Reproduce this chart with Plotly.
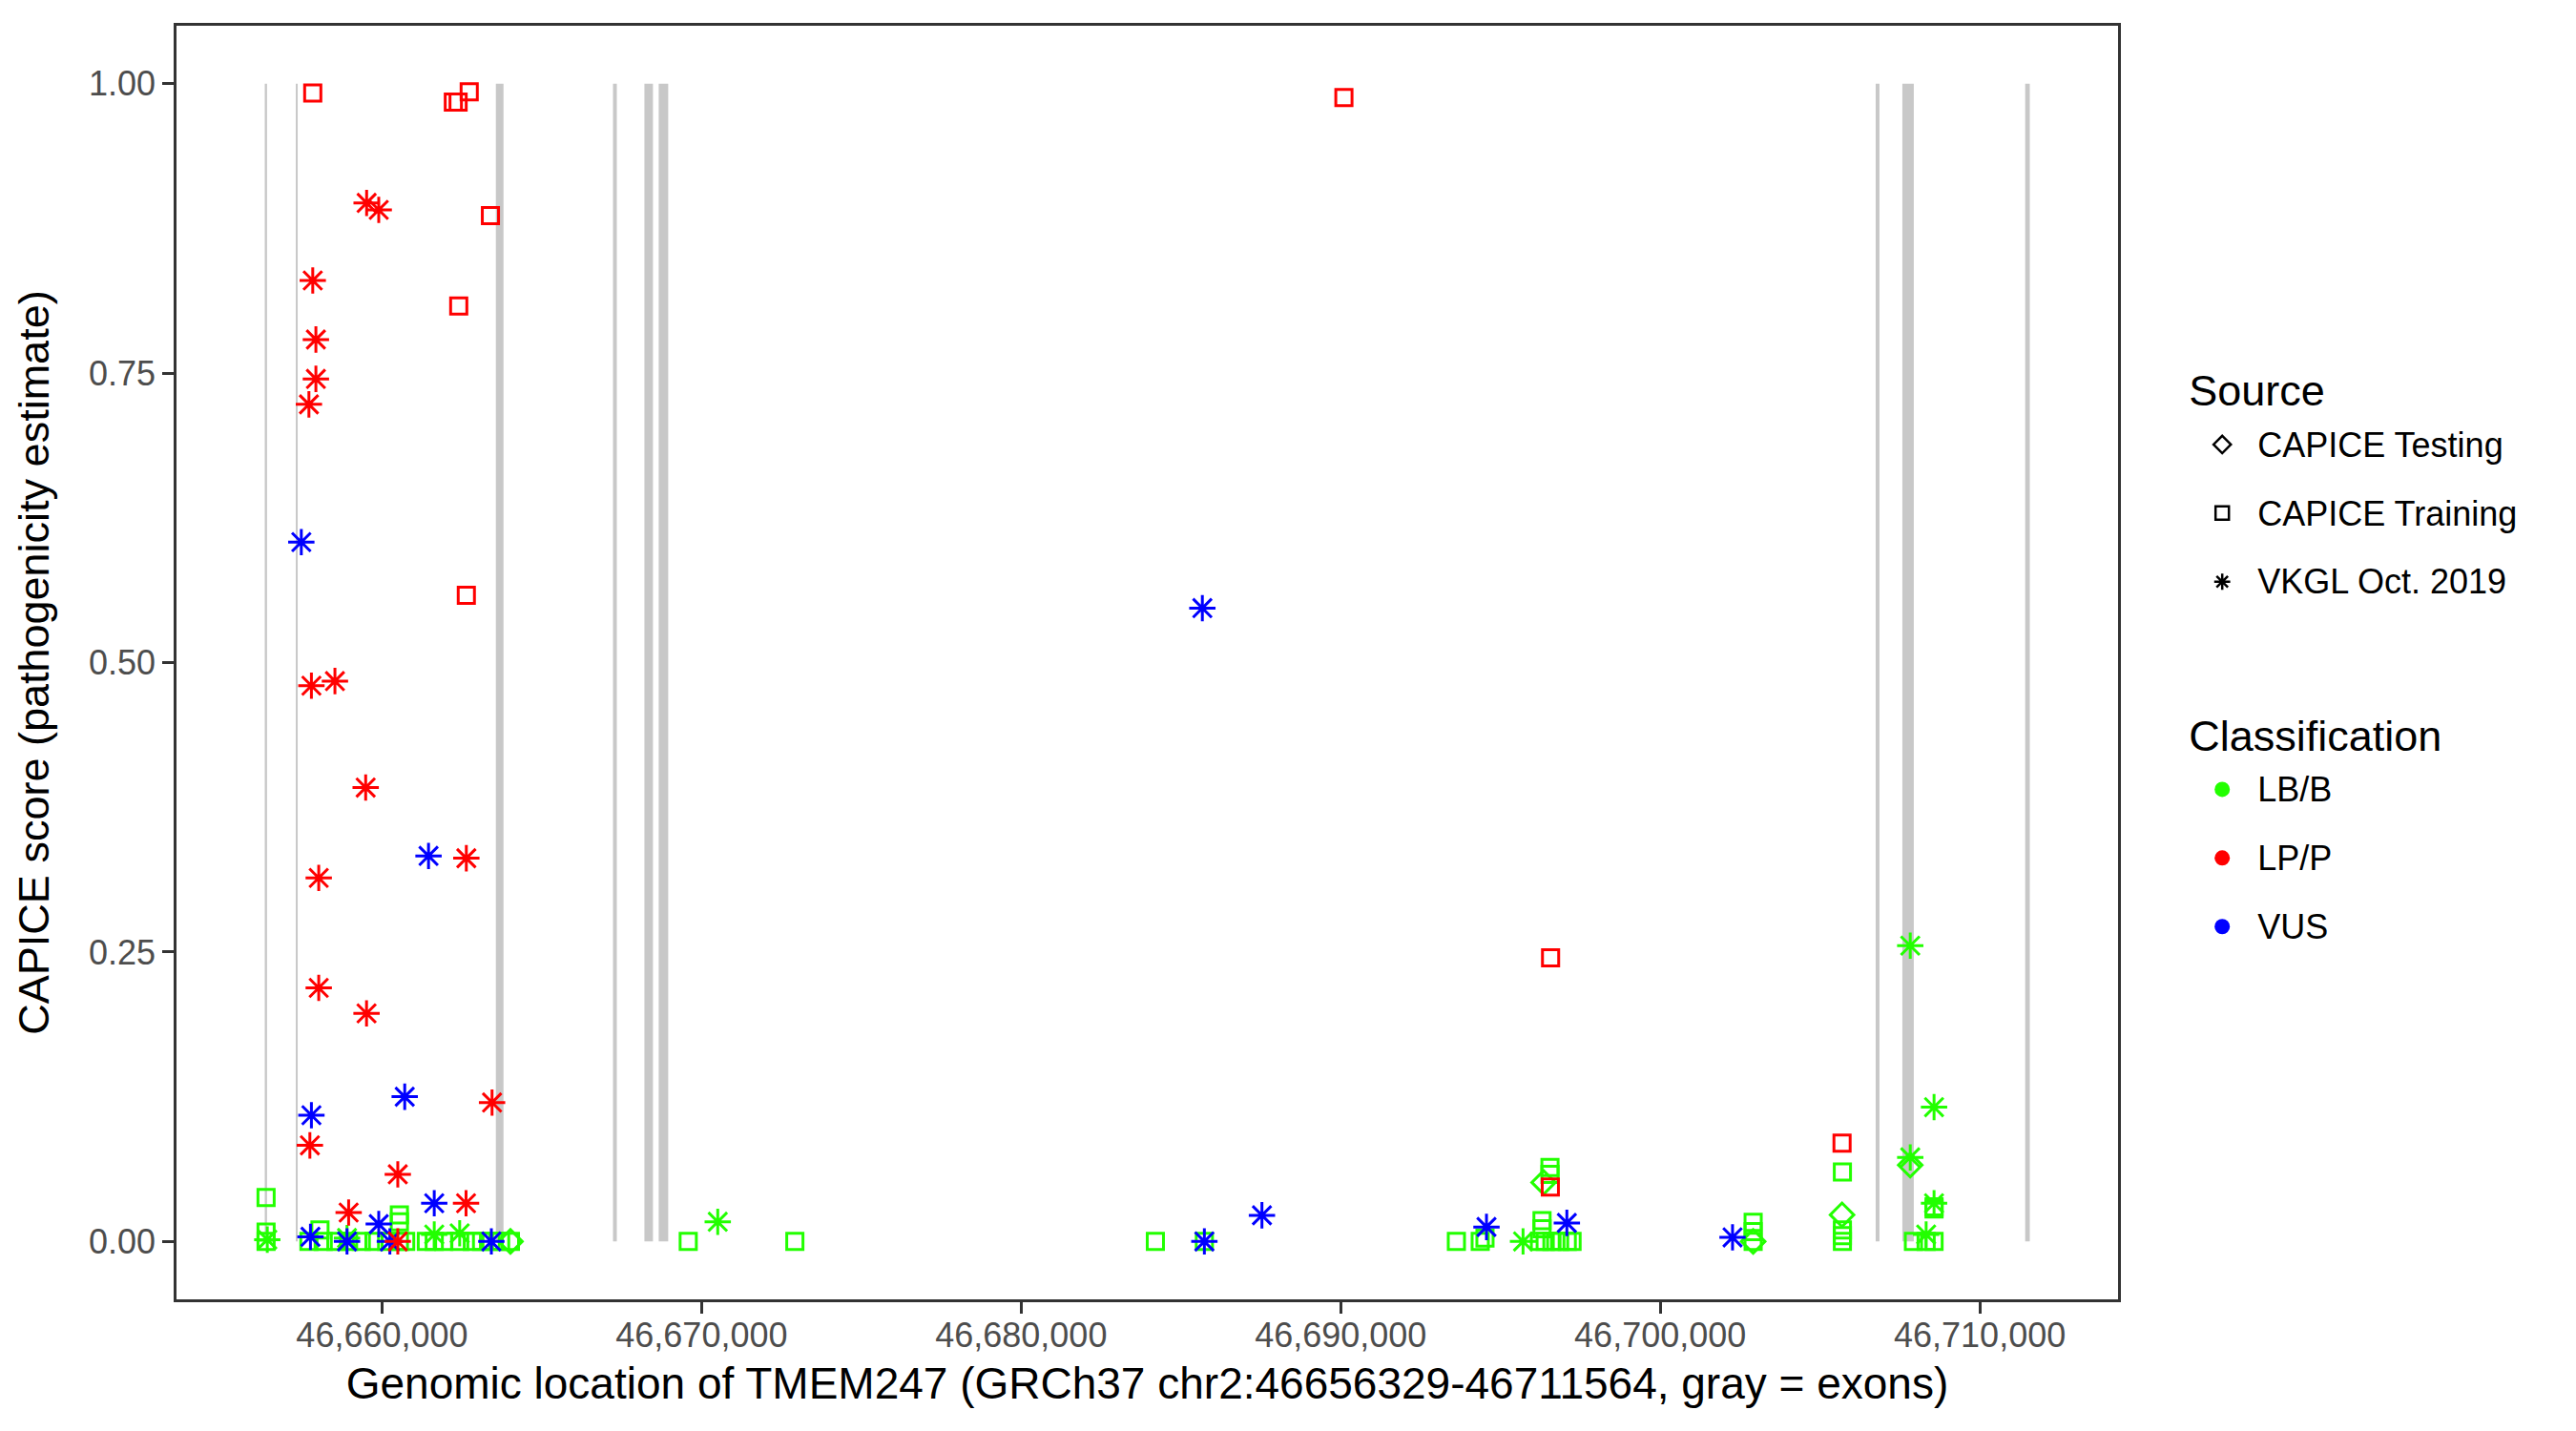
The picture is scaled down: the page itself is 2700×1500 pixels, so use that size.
import plotly.graph_objects as go

# exon coordinates (GRCh37 chr2), drawn as gray bands from score 0 to 1
exon_start = [46656329, 46657300, 46663561, 46667227, 46668210, 46668657, 46706741, 46707576, 46711420]
exon_end = [46656400, 46657360, 46663800, 46667346, 46668478, 46668955, 46706860, 46707934, 46711564]

# VKGL Oct. 2019 variants
vkgl_lpp_pos = [46659517, 46659896, 46657831, 46657929, 46657929, 46657711, 46657789, 46658525,
                46659487, 46662637, 46658018, 46658018, 46659514, 46663442, 46657741, 46660492,
                46662628, 46658954, 46660492]
vkgl_lpp_score = [0.897, 0.891, 0.830, 0.779, 0.745, 0.723, 0.480, 0.484,
                  0.392, 0.331, 0.314, 0.219, 0.197, 0.120, 0.083, 0.058,
                  0.033, 0.025, 0.000]
vkgl_vus_pos = [46657473, 46661454, 46660709, 46657789, 46661633, 46659896, 46657759, 46658903,
                46660244, 46663420, 46685670, 46685733, 46687535, 46694562, 46697077, 46702262]
vkgl_vus_score = [0.604, 0.333, 0.125, 0.109, 0.033, 0.015, 0.004, 0.000,
                  0.000, 0.000, 0.547, 0.000, 0.0226, 0.0125, 0.016, 0.0035]
vkgl_lbb_pos = [46656408, 46658903, 46661633, 46662429, 46670505, 46695706,
                46707823, 46708568, 46707823, 46708568, 46708321]
vkgl_lbb_score = [0.0016, 0.003, 0.006, 0.007, 0.017, 0.000,
                  0.2555, 0.116, 0.0726, 0.033, 0.006]

# CAPICE training variants
train_lpp_pos = [46657831, 46662230, 46662380, 46662727, 46663391, 46662399, 46662637,
                 46690100, 46696568, 46696560, 46705689]
train_lpp_score = [0.992, 0.984, 0.984, 0.993, 0.886, 0.808, 0.558,
                   0.988, 0.245, 0.047, 0.085]
train_lbb_pos = [46656370, 46656370, 46656370, 46658057,
                 46657711, 46658158, 46658555, 46658951, 46659350, 46659747, 46660143,
                 46660542, 46660739, 46660542, 46660542,
                 46661386, 46661633, 46661931, 46662429, 46662825,
                 46663114, 46663412, 46663710, 46664017,
                 46669581, 46672918, 46684200, 46685733,
                 46693620, 46694366, 46694515, 46696549, 46696549, 46696300, 46696300,
                 46696220, 46696400, 46696610, 46696850, 46697090, 46697240,
                 46702907, 46702907, 46702907,
                 46705700, 46705700, 46705700, 46705700,
                 46707923, 46708320, 46708568, 46708568, 46708568]
train_lbb_score = [0.038, 0.008, 0.000, 0.010,
                   0.000, 0.000, 0.000, 0.000, 0.000, 0.000, 0.000,
                   0.000, 0.000, 0.023, 0.017,
                   0.000, 0.000, 0.000, 0.000, 0.000,
                   0.000, 0.000, 0.000, 0.000,
                   0.000, 0.000, 0.000, 0.000,
                   0.000, 0.000, 0.003, 0.064, 0.058, 0.018, 0.011,
                   0.000, 0.000, 0.000, 0.000, 0.000, 0.000,
                   0.0166, 0.0084, 0.000,
                   0.060, 0.010, 0.005, 0.000,
                   0.000, 0.000, 0.030, 0.028, 0.000]

# CAPICE testing variants
test_lbb_pos = [46664017, 46696350, 46702907, 46705689, 46707823]
test_lbb_score = [0.000, 0.051, 0.000, 0.023, 0.066]

x_ticks = [46660000, 46670000, 46680000, 46690000, 46700000, 46710000]
y_ticks = [0, 0.25, 0.5, 0.75, 1.0]

GREEN, RED, BLUE = "#22FF00", "#FF0000", "#0000FF"
FONT = "Liberation Sans, Arial, sans-serif"

fig = go.Figure()

for s, e in zip(exon_start, exon_end):
    fig.add_shape(type="rect", xref="x", yref="y", x0=s, x1=e, y0=0, y1=1,
                  fillcolor="#C8C8C8", line=dict(width=0), layer="below")


def add_points(pos, score, symbol, color, size):
    fig.add_trace(go.Scatter(
        x=pos, y=score, mode="markers", showlegend=False, hoverinfo="x+y",
        marker=dict(symbol=symbol, size=size, color=color,
                    line=dict(color=color, width=3)),
    ))


add_points(train_lbb_pos, train_lbb_score, "square-open", GREEN, 17)
add_points(test_lbb_pos, test_lbb_score, "diamond-open", GREEN, 19)
add_points(vkgl_lbb_pos, vkgl_lbb_score, "asterisk-open", GREEN, 23)
add_points(vkgl_vus_pos, vkgl_vus_score, "asterisk-open", BLUE, 23)
add_points(train_lpp_pos, train_lpp_score, "square-open", RED, 17)
add_points(vkgl_lpp_pos, vkgl_lpp_score, "asterisk-open", RED, 23)


def item(label):
    # legend font is larger than the label so rows get ggplot-like spacing
    return f'<span style="font-size:36px;baseline-shift:8px">{label}</span>'


# legend entries
for name, sym in [("CAPICE Testing", "diamond-open"), ("CAPICE Training", "square-open"),
                  ("VKGL Oct. 2019", "asterisk-open")]:
    fig.add_trace(go.Scatter(x=[None], y=[None], mode="markers", name=item(name), legend="legend",
                             marker=dict(symbol=sym, size=14, color="black",
                                         line=dict(color="black", width=2.5))))
for name, col in [("LB/B", GREEN), ("LP/P", RED), ("VUS", BLUE)]:
    fig.add_trace(go.Scatter(x=[None], y=[None], mode="markers", name=item(name), legend="legend2",
                             marker=dict(symbol="circle", size=16, color=col)))

axis_common = dict(showline=True, mirror=True, linecolor="#333333", linewidth=2.5,
                   showgrid=False, zeroline=False, ticks="outside", ticklen=12,
                   tickwidth=2.5, tickcolor="#333333",
                   tickfont=dict(size=36, color="#4D4D4D", family=FONT))

legend_common = dict(font=dict(size=53), xref="container", yref="container", x=0.846,
                     xanchor="left", yanchor="top", itemsizing="trace", itemwidth=64,
                     bgcolor="rgba(0,0,0,0)")

fig.update_layout(
    width=2700, height=1500,
    margin=dict(l=177, r=488, t=19, b=146),
    plot_bgcolor="white", paper_bgcolor="white",
    font=dict(family=FONT, color="black"),
    xaxis=dict(range=[46653567, 46714326], tickvals=x_ticks, tickformat=",d", ticklabelstandoff=-8,
               title=dict(text="Genomic location of TMEM247 (GRCh37 chr2:46656329-46711564, gray = exons)",
                          font=dict(size=46), standoff=15),
               **axis_common),
    yaxis=dict(range=[-0.05, 1.05], tickvals=y_ticks, tickformat=".2f",
               title=dict(text="CAPICE score (pathogenicity estimate)", font=dict(size=45), standoff=28),
               **axis_common),
    legend=dict(title=dict(text="Source", font=dict(size=45)), y=0.761, **legend_common),
    legend2=dict(title=dict(text="Classification", font=dict(size=45)), y=0.520, **legend_common),
)

fig.write_html("out.html")
